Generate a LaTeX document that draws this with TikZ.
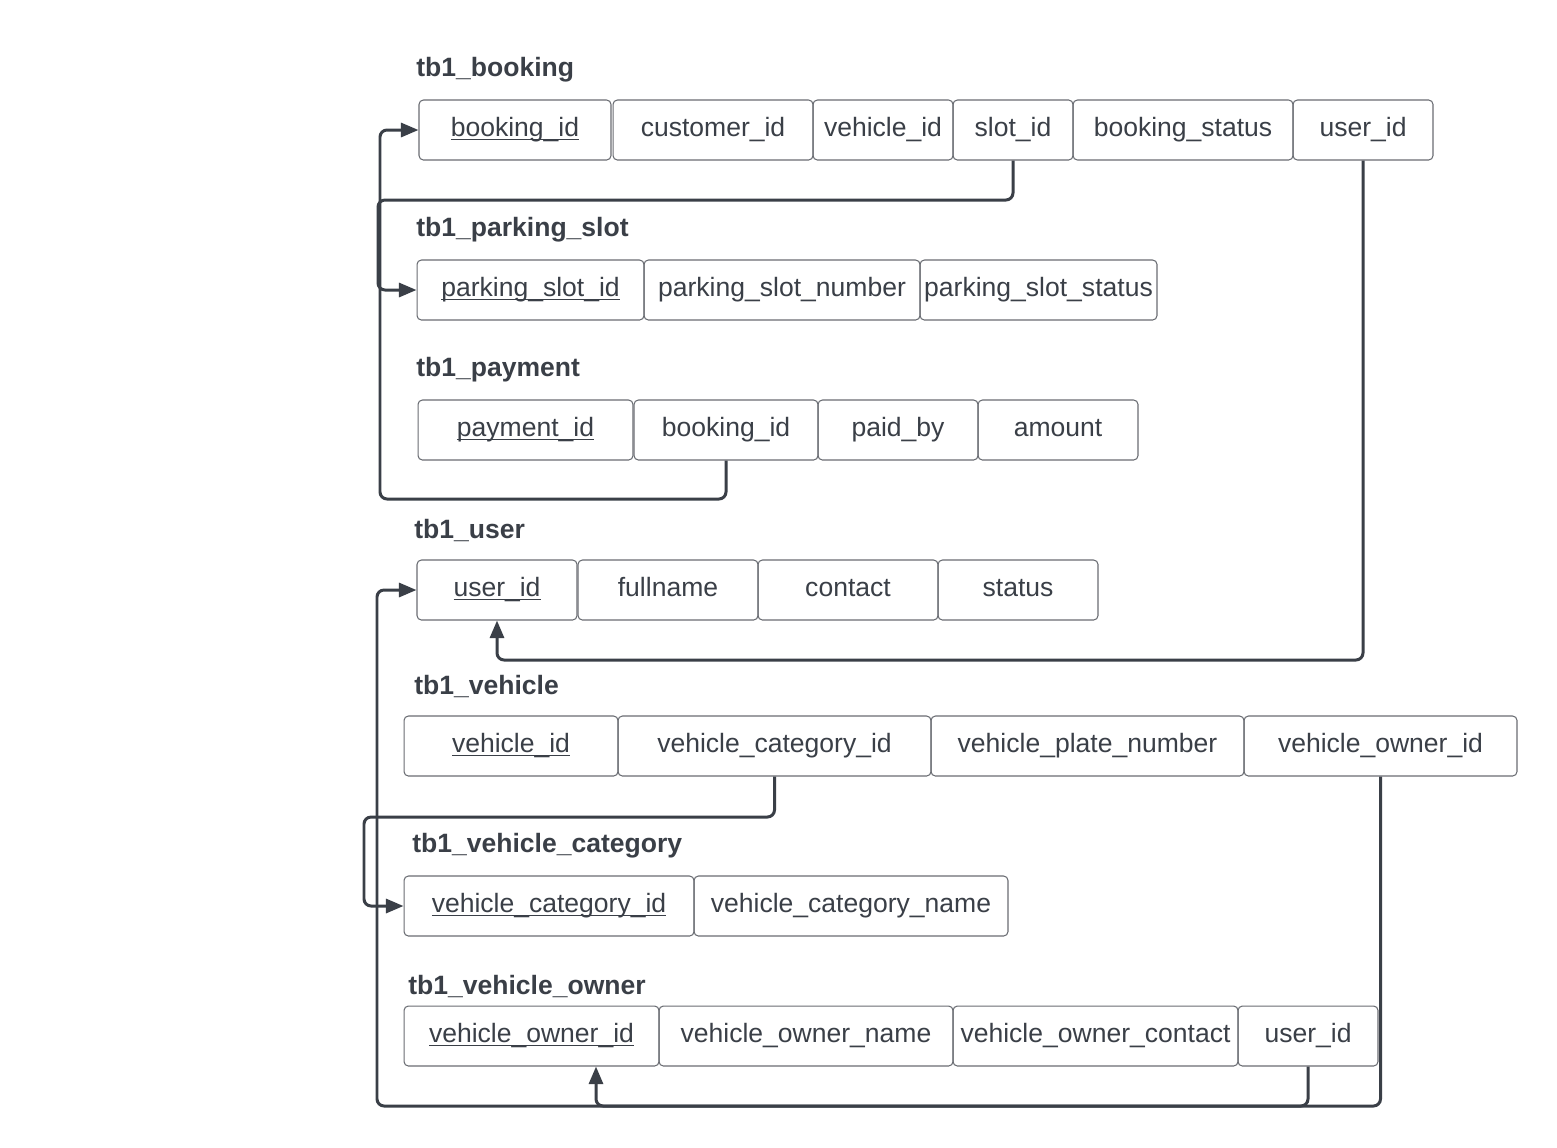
\documentclass[tikz,border=0pt]{standalone}
\usepackage{fontspec}
\setmainfont{Liberation Sans}
\usetikzlibrary{arrows.meta}
\definecolor{ink}{HTML}{3A3F47}
\definecolor{edge}{HTML}{6A6D73}
\newcommand{\pkey}[1]{\underline{\smash{#1}}}

\begin{document}
\begin{tikzpicture}[x=0.02cm,y=-0.02cm]
		\tikzstyle{field}=[draw=edge,line width=0.6pt,rounded corners=2.5pt,minimum height=1.2cm,inner xsep=1pt,text height=11pt,text depth=3.5pt,text=ink,font=\fontsize{15.1}{18}\selectfont]
		\tikzstyle{table}=[anchor=west,inner sep=0pt,text=ink,font=\fontsize{15.1}{18}\selectfont\bfseries]
		\tikzstyle{fk}=[draw=ink,line width=1.7pt,rounded corners=4pt,-{Triangle[length=10pt,width=8pt]}]
		\path[use as bounding box,fill=white] (0,0) rectangle (1557,1147);

		% tb1_booking
		\node (tbooking) at (416,70) [table] {tb1\_booking};
		\node (bkid) at (515,130) [field,minimum width=3.84cm] {\pkey{booking\_id}};
		\node (bkcust) at (713,130) [field,minimum width=4cm] {customer\_id};
		\node (bkveh) at (883,130) [field,minimum width=2.8cm] {vehicle\_id};
		\node (bkslot) at (1013,130) [field,minimum width=2.4cm] {slot\_id};
		\node (bkstat) at (1183,130) [field,minimum width=4.4cm] {booking\_status};
		\node (bkuser) at (1363,130) [field,minimum width=2.8cm] {user\_id};

		% tb1_parking_slot
		\node (tslot) at (416,230) [table] {tb1\_parking\_slot};
		\node (psid) at (530.5,290) [field,minimum width=4.54cm] {\pkey{parking\_slot\_id}};
		\node (psnum) at (782,290) [field,minimum width=5.52cm] {parking\_slot\_number};
		\node (psstat) at (1038.5,290) [field,minimum width=4.74cm] {parking\_slot\_status};

		% tb1_payment
		\node (tpayment) at (416,370) [table] {tb1\_payment};
		\node (pyid) at (525.5,430) [field,minimum width=4.3cm] {\pkey{payment\_id}};
		\node (pybk) at (726,430) [field,minimum width=3.68cm] {booking\_id};
		\node (pypaid) at (898,430) [field,minimum width=3.2cm] {paid\_by};
		\node (pyamt) at (1058,430) [field,minimum width=3.2cm] {amount};

		% tb1_user
		\node (tuser) at (414,530) [table] {tb1\_user};
		\node (usid) at (497,590) [field,minimum width=3.2cm] {\pkey{user\_id}};
		\node (usname) at (668,590) [field,minimum width=3.6cm] {fullname};
		\node (uscontact) at (848,590) [field,minimum width=3.6cm] {contact};
		\node (usstat) at (1018,590) [field,minimum width=3.2cm] {status};

		% tb1_vehicle
		\node (tvehicle) at (414,686) [table] {tb1\_vehicle};
		\node (vhid) at (511,746) [field,minimum width=4.28cm] {\pkey{vehicle\_id}};
		\node (vhcat) at (774.5,746) [field,minimum width=6.26cm] {vehicle\_category\_id};
		\node (vhplate) at (1087.5,746) [field,minimum width=6.26cm] {vehicle\_plate\_number};
		\node (vhowner) at (1380.5,746) [field,minimum width=5.46cm] {vehicle\_owner\_id};

		% tb1_vehicle_category
		\node (tcategory) at (412,846) [table] {tb1\_vehicle\_category};
		\node (vcid) at (549,906) [field,minimum width=5.8cm] {\pkey{vehicle\_category\_id}};
		\node (vcname) at (851,906) [field,minimum width=6.28cm] {vehicle\_category\_name};

		% tb1_vehicle_owner
		\node (towner) at (408,986) [table] {tb1\_vehicle\_owner};
		\node (void) at (531.5,1036) [field,minimum width=5.1cm] {\pkey{vehicle\_owner\_id}};
		\node (voname) at (806,1036) [field,minimum width=5.88cm] {vehicle\_owner\_name};
		\node (vocontact) at (1095.5,1036) [field,minimum width=5.7cm] {vehicle\_owner\_contact};
		\node (vouser) at (1308,1036) [field,minimum width=2.8cm] {user\_id};

		% foreign keys
		\coordinate (laneslot) at (378,200);
		\coordinate (lanepay) at (380,499);
		\coordinate (laneuser) at (497,660);
		\coordinate (lanecat) at (364,817);
		\coordinate (laneowner) at (377,1106);
		\coordinate (lanevo) at (596,1106);

		\path [fk] (bkslot.south) |- (laneslot) |- (psid.west);
		\path [fk] (pybk.south) |- (lanepay) |- (bkid.west);
		\path [fk] (bkuser.south) |- (laneuser) -- (usid.south);
		\path [fk] (vhcat.south) |- (lanecat) |- (vcid.west);
		\path [fk] (vouser.south) |- (laneowner) |- (usid.west);
		\path [fk] (vhowner.south) |- (lanevo) -- (lanevo |- void.south);
	\end{tikzpicture}
\end{document}
